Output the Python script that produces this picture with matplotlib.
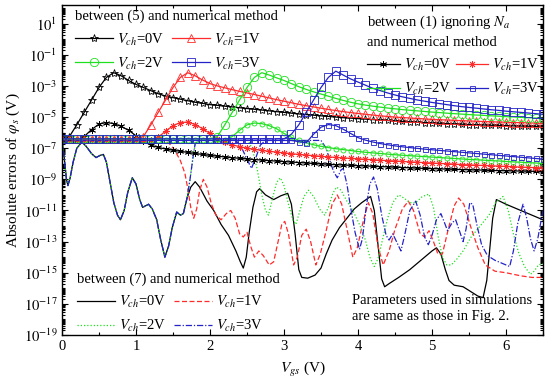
import numpy as np
import matplotlib
matplotlib.use("Agg")
import matplotlib.pyplot as plt
from matplotlib.ticker import FixedLocator, LogLocator, FuncFormatter, MultipleLocator, NullFormatter

plt.rcParams['font.family'] = ['Liberation Serif', 'DejaVu Serif']
plt.rcParams['mathtext.fontset'] = 'stix'

# ---------------- data (exponents of 10) ----------------
VGS = np.round(np.arange(0, 6.55, 0.1), 2)   # sampling grid of marker curves (V)

# between (5) and numerical method
EQ5_VCH0 = [-6.40, -6.25, -5.50, -4.70, -3.90, -3.10, -2.45, -2.15, -2.35, -2.65,
            -2.90, -3.10, -3.30, -3.50, -3.65, -3.75, -3.85, -3.95, -4.05, -4.12,
            -4.20, -4.25, -4.30, -4.35, -4.40, -4.45, -4.50, -4.55, -4.60, -4.65,
            -4.70, -4.75, -4.80, -4.84, -4.88, -4.92, -4.96, -5.00, -5.04, -5.07,
            -5.10, -5.13, -5.16, -5.19, -5.22, -5.25, -5.28, -5.31, -5.33, -5.36,
            -5.38, -5.40, -5.42, -5.44, -5.46, -5.48, -5.50, -5.51, -5.53, -5.54,
            -5.55, -5.57, -5.58, -5.59, -5.60, -5.62]
EQ5_VCH1 = [-6.40] * 11 + [-6.25, -5.50, -4.70, -3.90, -3.10, -2.45, -2.15, -2.35, -2.62,
            -2.85, -3.00, -3.12, -3.24, -3.35, -3.45, -3.55, -3.66, -3.77, -3.88,
            -3.98, -4.08, -4.18, -4.27, -4.35, -4.43, -4.51, -4.58, -4.65, -4.71,
            -4.77, -4.82, -4.87, -4.92, -4.96, -5.00, -5.03, -5.06, -5.09, -5.12,
            -5.15, -5.17, -5.19, -5.21, -5.23, -5.25, -5.27, -5.29, -5.30, -5.32,
            -5.33, -5.35, -5.36, -5.37, -5.39, -5.40]
EQ5_VCH2 = [-6.40] * 21 + [-6.25, -5.50, -4.70, -3.90, -3.10, -2.45, -2.15, -2.30, -2.48,
            -2.65, -2.85, -3.05, -3.22, -3.38, -3.52, -3.66, -3.80, -3.93, -4.05,
            -4.15, -4.23, -4.30, -4.36, -4.42, -4.47, -4.52, -4.56, -4.60, -4.64,
            -4.68, -4.71, -4.75, -4.78, -4.81, -4.84, -4.87, -4.89, -4.92, -4.94,
            -4.97, -4.99, -5.02, -5.04, -5.06, -5.08]
EQ5_VCH3 = [-6.40] * 31 + [-6.10, -5.50, -4.70, -3.90, -3.10, -2.45, -2.05, -2.30, -2.55,
            -2.75, -2.95, -3.15, -3.30, -3.45, -3.58, -3.70, -3.80, -3.90, -3.98,
            -4.06, -4.13, -4.20, -4.27, -4.33, -4.38, -4.43, -4.48, -4.53, -4.57,
            -4.62, -4.66, -4.70, -4.74, -4.78, -4.82]

# between (1) ignoring Na and numerical method
EQ1_VCH0 = [-6.50] * 3 + [-6.25, -5.80, -5.45, -5.35, -5.42, -5.60, -5.85,
            -6.20, -6.55, -6.80, -6.95, -7.05, -7.13, -7.20, -7.27, -7.34, -7.40,
            -7.46, -7.51, -7.56, -7.61, -7.65, -7.69, -7.73, -7.76, -7.80, -7.83,
            -7.86, -7.89, -7.92, -7.95, -7.98, -8.01, -8.03, -8.06, -8.08, -8.10,
            -8.12, -8.14, -8.16, -8.18, -8.20, -8.22, -8.24, -8.26, -8.28, -8.30,
            -8.31, -8.33, -8.34, -8.36, -8.37, -8.39, -8.40, -8.41, -8.43, -8.44,
            -8.45, -8.46, -8.47, -8.48, -8.49, -8.50]
EQ1_VCH1 = [-6.50] * 13 + [-6.30, -5.90, -5.55, -5.35, -5.32, -5.48, -5.75,
            -6.05, -6.38, -6.62, -6.78, -6.90, -7.00, -7.07, -7.14, -7.20, -7.25,
            -7.30, -7.35, -7.40, -7.44, -7.48, -7.52, -7.56, -7.59, -7.62, -7.65,
            -7.68, -7.71, -7.74, -7.77, -7.80, -7.82, -7.85, -7.88, -7.90, -7.93,
            -7.95, -7.98, -8.00, -8.02, -8.05, -8.07, -8.09, -8.11, -8.13, -8.15,
            -8.17, -8.19, -8.21, -8.23, -8.25, -8.27]
EQ1_VCH2 = [-6.50] * 23 + [-6.25, -5.85, -5.50, -5.38, -5.42, -5.55, -5.75,
            -6.05, -6.30, -6.50, -6.65, -6.78, -6.88, -6.96, -7.03, -7.09, -7.15,
            -7.21, -7.26, -7.30, -7.34, -7.38, -7.42, -7.45, -7.48, -7.51, -7.54,
            -7.57, -7.60, -7.63, -7.66, -7.69, -7.72, -7.74, -7.77, -7.80, -7.82,
            -7.85, -7.88, -7.90, -7.93, -7.95, -7.98]
EQ1_VCH3 = [-6.50] * 32 + [-6.58, -6.65, -6.10, -5.65, -5.48, -5.55, -5.78, -6.05,
            -6.32, -6.48, -6.60, -6.70, -6.78, -6.85, -6.91, -6.96, -7.01, -7.06,
            -7.10, -7.14, -7.18, -7.22, -7.26, -7.30, -7.34, -7.38, -7.42, -7.46,
            -7.50, -7.54, -7.58, -7.62, -7.66, -7.70]

# between (7) and numerical method: shared low-Vgs part and individual parts
EQ7_COMMON_X = [0.00, 0.03, 0.06, 0.08, 0.11, 0.15, 0.20, 0.27, 0.33, 0.40, 0.46, 0.52,
                0.56, 0.60, 0.65, 0.70, 0.75, 0.79, 0.84, 0.89, 0.95, 1.00, 1.05, 1.09,
                1.13, 1.17, 1.22, 1.28, 1.33, 1.39, 1.44, 1.49, 1.55, 1.60, 1.64, 1.69]
EQ7_COMMON_E = [-6.45, -7.60, -9.00, -9.40, -8.90, -7.90, -7.00, -6.60, -6.90, -7.35, -7.60, -7.45,
                -7.40, -7.90, -9.20, -10.5, -11.3, -11.6, -11.0, -9.80, -8.90, -9.30, -10.3, -10.8,
                -10.7, -10.6, -10.9, -11.6, -12.8, -14.0, -13.3, -12.1, -11.1, -11.3, -11.2, -10.2]

EQ7_VCH0_X = [1.74, 1.80, 1.86, 1.96, 2.05, 2.15, 2.25, 2.35, 2.41, 2.45, 2.49, 2.53, 2.58,
              2.63, 2.67, 2.75, 2.86, 2.96, 3.05, 3.10, 3.15, 3.20, 3.24, 3.32, 3.42, 3.50,
              3.57, 3.65, 3.75, 3.85, 3.95, 4.05, 4.17, 4.22, 4.27, 4.32, 4.36, 4.42, 4.55,
              4.70, 4.85, 5.00, 5.06, 5.12, 5.18, 5.23, 5.30, 5.42, 5.52, 5.62, 5.69, 5.74,
              5.78, 5.82, 5.87, 6.00, 6.15, 6.30, 6.50]
EQ7_VCH0_E = [-9.50, -9.15, -9.50, -10.4, -11.0, -11.9, -12.6, -13.6, -14.3, -14.7, -14.0, -12.4, -10.8,
              -9.80, -9.60, -10.0, -10.3, -10.05, -9.90, -10.6, -12.5, -14.8, -15.3, -15.35, -15.15, -14.7,
              -13.8, -12.9, -12.1, -11.5, -10.9, -10.5, -10.1, -11.0, -13.2, -15.4, -15.9, -15.7, -15.3,
              -14.8, -14.2, -13.6, -13.4, -13.8, -14.8, -15.5, -15.8, -15.9, -16.2, -16.5, -16.6, -15.5,
              -13.5, -11.5, -10.3, -10.6, -10.9, -11.2, -11.6]

EQ7_VCH1_X = [0.00, 1.38, 1.45, 1.52, 1.60, 1.66, 1.70, 1.74, 1.78, 1.82, 1.86, 1.91, 1.96,
              2.02, 2.08, 2.15, 2.22, 2.28, 2.34, 2.40, 2.45, 2.50, 2.55, 2.60, 2.66, 2.72,
              2.80, 2.86, 2.92, 2.97, 3.01, 3.06, 3.13, 3.18, 3.24, 3.30, 3.36, 3.43, 3.49,
              3.57, 3.65, 3.72, 3.78, 3.86, 3.93, 3.99, 4.07, 4.14, 4.20, 4.27, 4.34, 4.42,
              4.50, 4.60, 4.68, 4.75, 4.84, 4.90, 4.96, 5.02, 5.08, 5.14, 5.22, 5.30, 5.36,
              5.43, 5.52, 5.62, 5.72, 5.85, 6.00, 6.20, 6.35, 6.50]
EQ7_VCH1_E = [-6.50, -6.50, -6.70, -7.10, -7.80, -8.60, -9.60, -10.8, -11.5, -10.9, -9.70, -9.00, -9.50,
              -10.6, -11.3, -11.6, -11.2, -11.0, -11.5, -12.5, -12.7, -12.4, -13.3, -14.0, -13.6, -13.9,
              -14.5, -14.3, -13.0, -11.9, -11.7, -12.5, -14.5, -14.0, -12.6, -12.2, -13.0, -14.5, -13.8,
              -12.3, -10.6, -10.0, -10.6, -12.4, -14.0, -13.4, -11.7, -10.5, -11.2, -13.3, -14.5, -13.6,
              -12.2, -10.9, -10.4, -11.0, -12.5, -12.7, -12.3, -13.0, -13.8, -13.8, -12.2, -10.7, -10.2,
              -10.6, -12.0, -13.4, -14.5, -14.9, -15.0, -15.2, -15.3, -15.3]

EQ7_VCH2_X = [1.73, 1.77, 1.80, 1.85, 2.52, 2.58, 2.64, 2.70, 2.75, 2.79, 2.84, 2.90, 2.95,
              3.00, 3.06, 3.12, 3.16, 3.21, 3.27, 3.33, 3.40, 3.48, 3.55, 3.60, 3.66, 3.71,
              3.77, 3.85, 3.93, 4.02, 4.10, 4.16, 4.22, 4.27, 4.33, 4.40, 4.47, 4.55, 4.62,
              4.70, 4.78, 4.87, 4.96, 5.02, 5.08, 5.14, 5.20, 5.26, 5.34, 5.42, 5.53, 5.65,
              5.77, 5.86, 5.96, 6.03, 6.10, 6.17, 6.25, 6.33, 6.38, 6.44, 6.50]
EQ7_VCH2_E = [-9.00, -7.60, -6.70, -6.50, -6.50, -7.20, -8.40, -10.0, -11.0, -11.3, -10.3, -9.20, -8.90,
              -9.40, -10.6, -11.6, -11.9, -11.1, -10.1, -9.70, -10.1, -10.9, -11.3, -10.8, -9.90, -9.50,
              -9.70, -10.4, -11.0, -11.9, -12.9, -14.0, -14.6, -14.1, -12.9, -11.5, -10.5, -10.0, -10.2,
              -10.5, -10.5, -10.1, -9.95, -10.8, -12.6, -14.0, -14.5, -14.5, -14.1, -13.6, -12.7, -12.0,
              -11.3, -10.5, -10.1, -11.0, -12.5, -13.7, -14.6, -15.1, -14.9, -14.5, -14.4]

EQ7_VCH3_X = [1.73, 1.77, 1.80, 1.85, 2.35, 2.42, 2.50, 2.56, 2.62, 2.68, 2.75, 3.50, 3.57,
              3.62, 3.67, 3.72, 3.77, 3.80, 3.85, 3.90, 3.96, 4.02, 4.06, 4.11, 4.16, 4.21,
              4.26, 4.32, 4.38, 4.42, 4.47, 4.52, 4.58, 4.63, 4.70, 4.78, 4.84, 4.90, 4.95,
              5.00, 5.06, 5.12, 5.17, 5.21, 5.27, 5.32, 5.37, 5.42, 5.46, 5.51, 5.55, 5.61,
              5.67, 5.75, 5.85, 5.95, 6.05, 6.10, 6.16, 6.23, 6.28, 6.33, 6.38, 6.43, 6.48, 6.50]
EQ7_VCH3_E = [-9.00, -7.60, -6.70, -6.50, -6.50, -6.90, -7.70, -8.30, -7.60, -6.80, -6.50, -6.50, -7.00,
              -7.80, -8.50, -8.90, -8.40, -8.30, -9.30, -10.8, -12.4, -13.5, -12.8, -10.8, -9.30, -8.85,
              -9.60, -11.3, -12.6, -12.9, -12.5, -13.0, -13.6, -12.6, -11.0, -10.4, -11.3, -12.7, -13.2,
              -12.6, -11.6, -11.2, -11.8, -12.3, -11.8, -11.6, -12.3, -13.0, -12.2, -10.5, -10.6, -12.0,
              -13.2, -13.9, -14.2, -14.4, -14.6, -13.6, -11.8, -10.6, -11.5, -12.8, -13.6, -12.8, -11.5, -11.0]

VCH_LABELS = [r'$V_{ch}$=0V', r'$V_{ch}$=1V', r'$V_{ch}$=2V', r'$V_{ch}$=3V']
COLORS = ['#000000', '#ff2a2a', '#1fe01f', '#2323c8']

# ---------------- figure ----------------
fig = plt.figure(figsize=(5.5, 3.89), dpi=100)
ax = fig.add_axes([62 / 550, 1 - 335 / 389, 481 / 550, 330 / 389])
ax.set_yscale('log')

lw = 0.9
# (7) curves
styles7 = ['-', (0, (4, 2)), (0, (1, 1.6)), (0, (5, 1.5, 1, 1.5))]
eq7 = [
    (EQ7_COMMON_X + EQ7_VCH0_X, EQ7_COMMON_E + EQ7_VCH0_E),
    (EQ7_VCH1_X, EQ7_VCH1_E),
    (EQ7_COMMON_X + EQ7_VCH2_X, EQ7_COMMON_E + EQ7_VCH2_E),
    (EQ7_COMMON_X + EQ7_VCH3_X, EQ7_COMMON_E + EQ7_VCH3_E),
]
h7 = []
for (xs, es), c, ls, lab in zip(eq7, COLORS, styles7, VCH_LABELS):
    ln, = ax.plot(xs, 10.0 ** np.array(es), color=c, ls=ls, lw=lw, label=lab)
    h7.append(ln)

# (1) curves
m1 = [dict(marker=(6, 2, 0), ms=5), dict(marker=(8, 2, 0), ms=5),
      dict(marker='o', ms=3.6), dict(marker='s', ms=3.6)]
h1 = []
for es, c, mk, lab in zip([EQ1_VCH0, EQ1_VCH1, EQ1_VCH2, EQ1_VCH3], COLORS, m1, VCH_LABELS):
    ln, = ax.plot(VGS, 10.0 ** np.array(es), color=c, lw=lw, mfc='none', mew=0.6, label=lab, **mk)
    h1.append(ln)

# (5) curves
m5 = [dict(marker='*', ms=6), dict(marker='^', ms=5.5),
      dict(marker='o', ms=6), dict(marker='s', ms=5.5)]
h5 = []
for es, c, mk, lab in zip([EQ5_VCH0, EQ5_VCH1, EQ5_VCH2, EQ5_VCH3], COLORS, m5, VCH_LABELS):
    ln, = ax.plot(VGS, 10.0 ** np.array(es), color=c, lw=lw, mfc='none', mew=0.6, label=lab, **mk)
    h5.append(ln)

# axes
ax.set_xlim(0, 6.5)
ax.set_ylim(1e-19, 10 ** 2.2)
ax.xaxis.set_major_locator(MultipleLocator(1))
ax.xaxis.set_minor_locator(MultipleLocator(0.5))
ax.yaxis.set_major_locator(FixedLocator([10.0 ** k for k in range(-19, 2, 2)]))
ax.yaxis.set_minor_locator(LogLocator(base=10, subs=np.arange(1, 10), numticks=200))
ax.yaxis.set_major_formatter(FuncFormatter(lambda v, p: r'$10^{%d}$' % int(round(np.log10(v)))))
ax.yaxis.set_minor_formatter(NullFormatter())
ax.tick_params(which='both', direction='in', top=True, right=True, labelsize=10.5, width=0.8)
ax.tick_params(which='major', length=4.5)
ax.tick_params(which='minor', length=2.2)
for s in ax.spines.values():
    s.set_linewidth(1.0)

ax.set_xlabel(r'$V_{gs}$ (V)', fontsize=11, labelpad=5)
ax.set_ylabel(r'Absolute errors of $\varphi_s$ (V)', fontsize=11, labelpad=1)

# legends: rows are (0V, 1V) and (2V, 3V)
order = [0, 2, 1, 3]
def reorder(seq):
    return [seq[i] for i in order]

leg_kw = dict(ncol=2, frameon=False, handletextpad=0.3, labelspacing=0.55, borderaxespad=0,
              borderpad=0, alignment='left', loc='upper left')
leg5 = ax.legend(handles=reorder(h5), labels=reorder(VCH_LABELS),
                 title='between (5) and numerical method', fontsize=10.5, title_fontsize=10.5,
                 handlelength=2.6, columnspacing=0.5, bbox_to_anchor=(0.027, 0.985), **leg_kw)
ax.add_artist(leg5)
leg1 = ax.legend(handles=reorder(h1), labels=reorder(VCH_LABELS),
                 title='between (1) ignoring $N_a$\nand numerical method', fontsize=10.5,
                 title_fontsize=10.5, handlelength=2.2, columnspacing=0.3,
                 bbox_to_anchor=(0.635, 0.975), **leg_kw)
leg1.get_title().set_linespacing(1.55)
ax.add_artist(leg1)
leg7 = ax.legend(handles=reorder(h7), labels=reorder(VCH_LABELS),
                 title='between (7) and numerical method', fontsize=10.5, title_fontsize=10.5,
                 handlelength=2.6, columnspacing=0.5, bbox_to_anchor=(0.031, 0.19), **leg_kw)

ax.text(0.603, 0.125, 'Parameters used in simulations\nare same as those in Fig. 2.',
        transform=ax.transAxes, fontsize=10.5, va='top', ha='left', linespacing=1.35)

fig.savefig('out.png', dpi=100)
